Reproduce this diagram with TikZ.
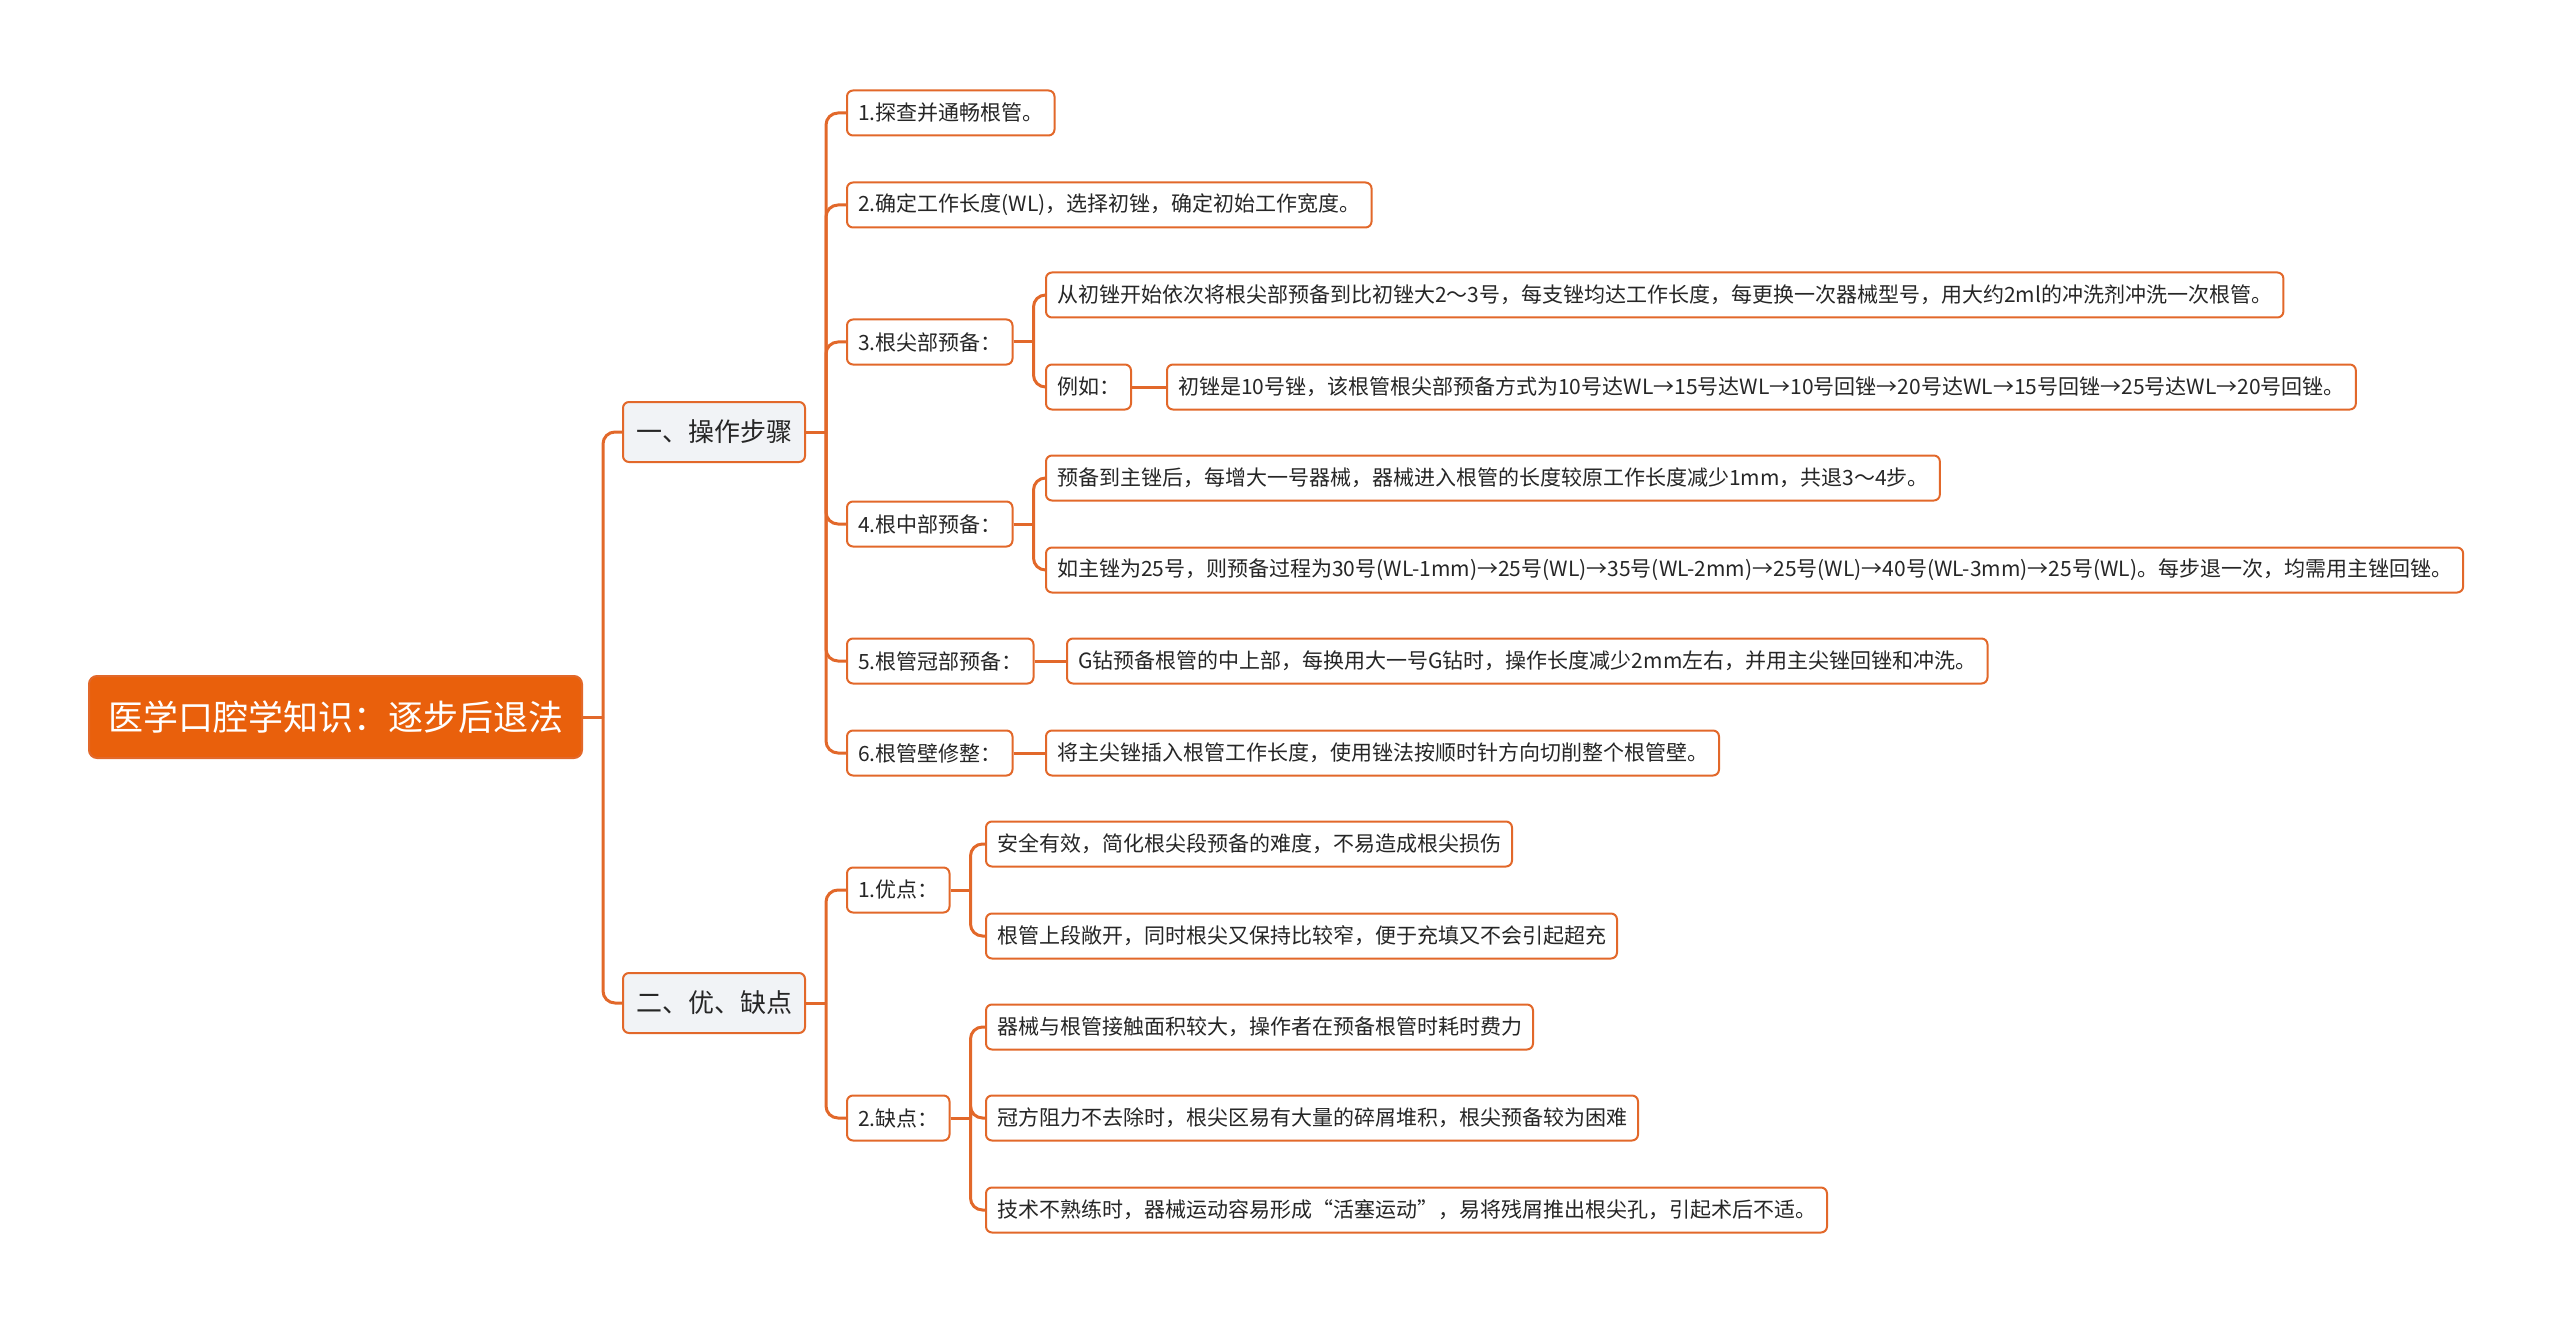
\documentclass[tikz,border=0pt]{standalone}
\usepackage{fontspec}
\setmainfont{Noto Sans CJK SC}
\usepackage{tikz}
\usetikzlibrary{positioning}
\usetikzlibrary{calc}
\definecolor{mapOrange}{HTML}{E9600C}
\definecolor{lineOrange}{HTML}{E2682A}
\definecolor{boxGrey}{HTML}{F1F3F6}
\tikzstyle{topic} = [draw = lineOrange, line width = 1pt, rounded corners = 3pt, anchor = west, inner ysep = 0pt]
\tikzstyle{root topic} = [topic, fill = mapOrange, text = white, font = \fontsize{17.5}{20}\selectfont, minimum height = 41pt, inner xsep = 9.5pt, rounded corners = 4pt]
\tikzstyle{main topic} = [topic, fill = boxGrey, text = black!85, font = \fontsize{13}{15}\selectfont, minimum height = 30pt, inner xsep = 6.5pt]
\tikzstyle{sub topic} = [topic, fill = white, text = black!85, font = \fontsize{10.5}{12}\selectfont, minimum height = 22.5pt, inner xsep = 5.5pt]
\tikzstyle{branch} = [draw = lineOrange, line width = 1.5pt]

\begin{document}
\begin{tikzpicture}[x = 0.5pt, y = -0.5pt]
    \useasboundingbox (0, 0) rectangle (2560, 1321);

    \node [root topic] (root) at (88, 717) {医学口腔学知识：逐步后退法};
    \node [main topic] (steps) at (622, 432) {一、操作步骤};
    \node [main topic] (proscons) at (622, 1003) {二、优、缺点};

    % operation steps
    \node [sub topic] (step_1) at (846, 113) {1.探查并通畅根管。};
    \node [sub topic] (step_2) at (846, 205) {2.确定工作长度(WL)，选择初锉，确定初始工作宽度。};
    \node [sub topic] (step_3) at (846, 342) {3.根尖部预备：};
    \node [sub topic] (step_3_a) at (1045, 295) {从初锉开始依次将根尖部预备到比初锉大2～3号，每支锉均达工作长度，每更换一次器械型号，用大约2ml的冲洗剂冲洗一次根管。};
    \node [sub topic] (step_3_b) at (1045, 387) {例如：};
    \node [sub topic] (step_3_b_a) at (1166, 387) {初锉是10号锉，该根管根尖部预备方式为10号达WL→15号达WL→10号回锉→20号达WL→15号回锉→25号达WL→20号回锉。};
    \node [sub topic] (step_4) at (846, 524) {4.根中部预备：};
    \node [sub topic] (step_4_a) at (1045, 478) {预备到主锉后，每增大一号器械，器械进入根管的长度较原工作长度减少1mm，共退3～4步。};
    \node [sub topic] (step_4_b) at (1045, 570) {如主锉为25号，则预备过程为30号(WL-1mm)→25号(WL)→35号(WL-2mm)→25号(WL)→40号(WL-3mm)→25号(WL)。每步退一次，均需用主锉回锉。};
    \node [sub topic] (step_5) at (846, 661) {5.根管冠部预备：};
    \node [sub topic] (step_5_a) at (1066, 661) {G钻预备根管的中上部，每换用大一号G钻时，操作长度减少2mm左右，并用主尖锉回锉和冲洗。};
    \node [sub topic] (step_6) at (846, 753) {6.根管壁修整：};
    \node [sub topic] (step_6_a) at (1045, 753) {将主尖锉插入根管工作长度，使用锉法按顺时针方向切削整个根管壁。};

    % pros and cons
    \node [sub topic] (pros) at (846, 890) {1.优点：};
    \node [sub topic] (pros_a) at (985, 844) {安全有效，简化根尖段预备的难度，不易造成根尖损伤};
    \node [sub topic] (pros_b) at (985, 936) {根管上段敞开，同时根尖又保持比较窄，便于充填又不会引起超充};
    \node [sub topic] (cons) at (846, 1118) {2.缺点：};
    \node [sub topic] (cons_a) at (985, 1027) {器械与根管接触面积较大，操作者在预备根管时耗时费力};
    \node [sub topic] (cons_b) at (985, 1118) {冠方阻力不去除时，根尖区易有大量的碎屑堆积，根尖预备较为困难};
    \node [sub topic] (cons_c) at (985, 1210) {技术不熟练时，器械运动容易形成“活塞运动”，易将残屑推出根尖孔，引起术后不适。};

    \foreach \p/\c in {root/steps, root/proscons,
                       steps/step_1, steps/step_2, steps/step_3, steps/step_4, steps/step_5, steps/step_6,
                       step_3/step_3_a, step_3/step_3_b, step_4/step_4_a, step_4/step_4_b,
                       proscons/pros, proscons/cons,
                       pros/pros_a, pros/pros_b, cons/cons_a, cons/cons_b, cons/cons_c}
    {
        \draw [branch] (\p.east) -- ++(20, 0) coordinate (joint);
        \draw [branch, rounded corners = 6pt] (joint) |- (\c.west);
    }

    \foreach \p/\c in {step_3_b/step_3_b_a, step_5/step_5_a, step_6/step_6_a}
        \draw [branch] (\p.east) -- (\c.west);
\end{tikzpicture}
\end{document}
